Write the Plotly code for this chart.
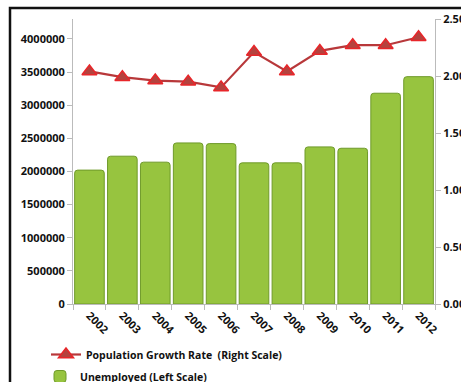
import plotly.graph_objects as go

years = ["2002", "2003", "2004", "2005", "2006", "2007", "2008", "2009", "2010", "2011", "2012"]
unemployed = [2020000, 2230000, 2140000, 2430000, 2420000, 2130000, 2130000, 2370000, 2350000, 3180000, 3430000]
growth_rate = [2.04, 1.99, 1.96, 1.95, 1.90, 2.21, 2.04, 2.22, 2.27, 2.27, 2.34]

left_ticks = [0, 500000, 1000000, 1500000, 2000000, 2500000, 3000000, 3500000, 4000000]
right_ticks = [0, 0.5, 1.0, 1.5, 2.0, 2.5]

W, H = 461, 382
L, R, T, B = 73, 26, 19, 78

font = dict(family="Open Sans", size=11, color="#111111", weight="bold")
legend_font = dict(family="Open Sans", size=10.5, color="#111111", weight="bold")

fig = go.Figure()
fig.add_trace(go.Bar(
    x=years, y=unemployed, name="Unemployed (Left Scale)",
    marker=dict(color="#97C43F", line=dict(color="#6F9A2A", width=1), cornerradius=3),
    legend="legend2", showlegend=True,
))
fig.add_trace(go.Scatter(
    x=years, y=growth_rate, name="Population Growth Rate  (Right Scale)",
    yaxis="y2", mode="lines+markers",
    line=dict(color="#B8383A", width=2.2),
    marker=dict(symbol="triangle-up", size=13, color="#B5423E",
                line=dict(color="#E8262A", width=1.5)),
    legend="legend", showlegend=True,
))

def px_x(p):
    return (p - L) / (W - L - R)

def px_y(p):
    return (H - B - p) / (H - T - B)

fig.update_layout(
    width=W, height=H,
    margin=dict(l=L, r=R, t=T, b=B, autoexpand=False),
    paper_bgcolor="white", plot_bgcolor="white",
    font=font,
    showlegend=True,
    bargap=0.1,
    xaxis=dict(
        type="category", range=[-0.5, len(years) - 0.5], tickangle=45, tickfont=font,
        showline=True, linecolor="#BBBBBB", linewidth=1,
        ticks="outside", tickson="boundaries", ticklen=5, tickcolor="#BBBBBB",
        showgrid=False, automargin=False,
    ),
    yaxis=dict(
        range=[0, 4300000], tickvals=left_ticks,
        ticktext=[str(v) for v in left_ticks], tickfont=font,
        showline=True, linecolor="#BBBBBB", linewidth=1,
        ticks="outside", ticklen=5, tickcolor="#BBBBBB",
        showgrid=False, zeroline=False, automargin=False,
    ),
    yaxis2=dict(
        range=[0, 2.5], overlaying="y", side="right",
        tickvals=right_ticks, ticktext=[f"{v:.2f}" for v in right_ticks],
        tickfont=font,
        showline=True, linecolor="#BBBBBB", linewidth=1,
        ticks="outside", ticklen=5, tickcolor="#BBBBBB",
        showgrid=False, zeroline=False, automargin=False,
    ),
    legend=dict(
        x=px_x(46), y=px_y(340), xanchor="left", yanchor="top",
        font=legend_font, bgcolor="rgba(0,0,0,0)", itemwidth=30, visible=True,
    ),
    legend2=dict(
        x=px_x(40), y=px_y(362), xanchor="left", yanchor="top",
        font=legend_font, bgcolor="rgba(0,0,0,0)", itemwidth=30, visible=True,
    ),
    shapes=[dict(
        type="rect", xref="paper", yref="paper",
        x0=px_x(10), x1=px_x(W + 20), y0=px_y(H + 20), y1=px_y(8),
        line=dict(color="#111111", width=2.5), layer="above",
    )],
)

fig.write_html("out.html")
